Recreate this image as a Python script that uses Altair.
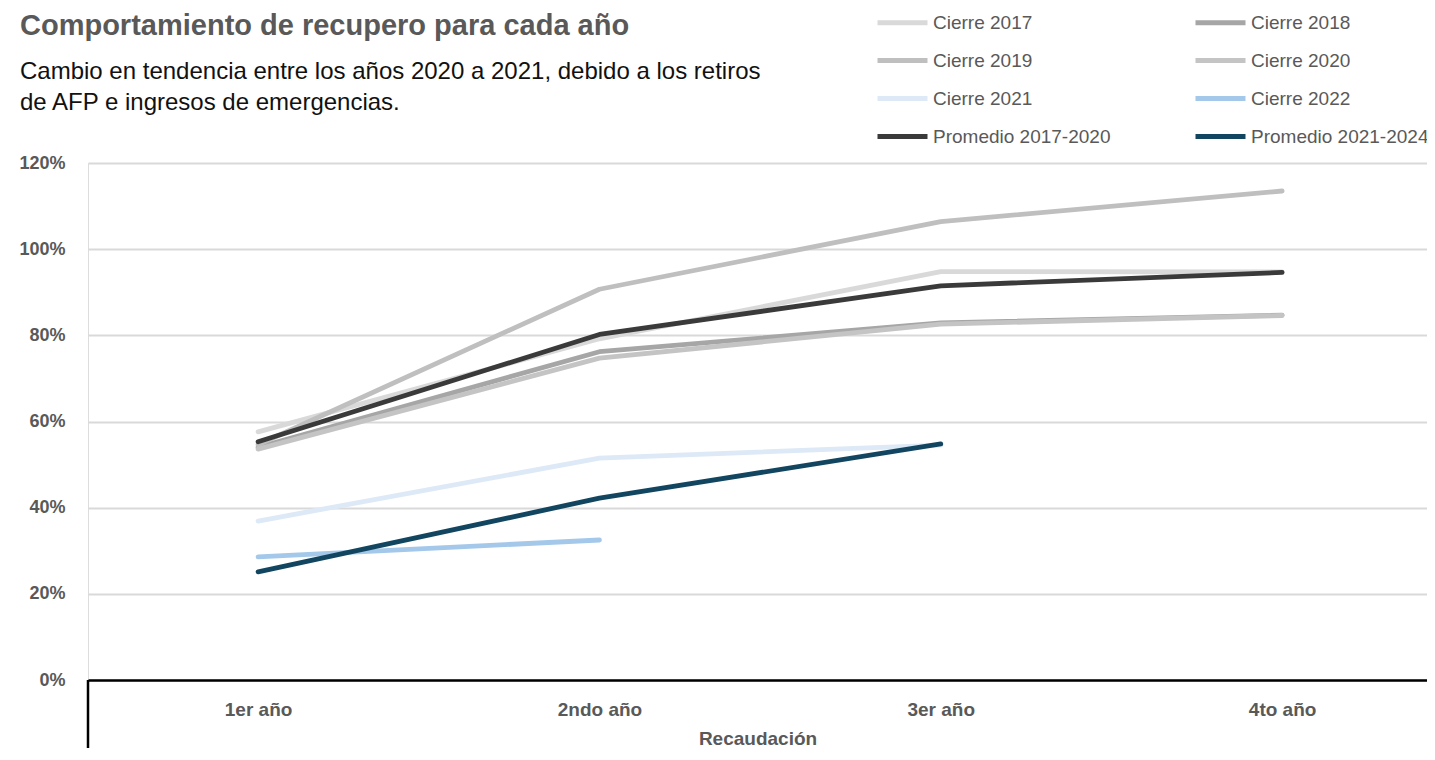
import altair as alt
import pandas as pd

# ---- data ----
categorias = ["1er año", "2ndo año", "3er año", "4to año"]
series = ["Cierre 2017", "Cierre 2018", "Cierre 2019", "Cierre 2020",
          "Cierre 2021", "Cierre 2022", "Promedio 2017-2020", "Promedio 2021-2024"]
cierre_2017 = [0.576, 0.792, 0.948, 0.947]
cierre_2018 = [0.540, 0.762, 0.829, 0.847]
cierre_2019 = [0.546, 0.907, 1.064, 1.135]
cierre_2020 = [0.536, 0.747, 0.826, 0.846]
cierre_2021 = [0.369, 0.515, 0.545, None]
cierre_2022 = [0.286, 0.325, None, None]
promedio_2017_2020 = [0.553, 0.802, 0.915, 0.946]
promedio_2021_2024 = [0.251, 0.422, 0.548, None]

colores = ["#d9d9d9", "#a6a6a6", "#bfbfbf", "#c4c4c4",
           "#dde9f6", "#a4c8ea", "#3a3a3a", "#124660"]
grosores = [4.8, 4.8, 4.8, 4.8, 4.8, 4.8, 6.5, 6.5]

titulo = "Comportamiento de recupero para cada año"
subtitulo_1 = "Cambio en tendencia entre los años 2020 a 2021, debido a los retiros"
subtitulo_2 = "de AFP e ingresos de emergencias."

valores = [cierre_2017, cierre_2018, cierre_2019, cierre_2020,
           cierre_2021, cierre_2022, promedio_2017_2020, promedio_2021_2024]
rows = []
for s, vals in zip(series, valores):
    for c, v in zip(categorias, vals):
        if v is not None:
            rows.append({"serie": s, "anio": c, "valor": v})
df = pd.DataFrame(rows)

FONT = "Liberation Sans"
GRAY = "#595959"
W, H = 1339, 517

x_enc = alt.X("anio:N", sort=categorias,
              scale=alt.Scale(type="point", domain=categorias, padding=0.4614, align=0.540),
              axis=alt.Axis(title="Recaudación", labelAngle=0, ticks=False, tickSize=0,
                            labelPadding=20, labelFontSize=19, labelFontWeight="bold",
                            labelColor=GRAY, labelFont=FONT, titleFont=FONT,
                            titleFontSize=19, titleFontWeight="bold", titleColor=GRAY,
                            titlePadding=10, domainColor="#000000", domainWidth=2.5,
                            grid=False, zindex=1))
y_enc = alt.Y("valor:Q",
              scale=alt.Scale(domain=[0, 1.2]),
              axis=alt.Axis(title=None, values=[0, 0.2, 0.4, 0.6, 0.8, 1.0, 1.2],
                            format=".0%", domain=False, ticks=False, tickSize=0,
                            labelPadding=23, labelFontSize=18, labelFontWeight="bold",
                            labelColor=GRAY, labelFont=FONT,
                            gridColor="#d9d9d9", gridWidth=2))
leg = dict(title=None, orient="none", legendX=787, legendY=-168, direction="horizontal",
           columns=2, symbolType="stroke", symbolSize=2500, labelLimit=400,
           labelFontSize=19, labelColor=GRAY, labelFont=FONT,
           labelOffset=3, columnPadding=74, rowPadding=-9)
color_enc = alt.Color("serie:N", scale=alt.Scale(domain=series, range=colores),
                      legend=alt.Legend(**leg))
sw_enc = alt.StrokeWidth("serie:N", scale=alt.Scale(domain=series, range=grosores),
                         legend=alt.Legend(**leg))

base = alt.Chart(df).mark_line(strokeCap="round", strokeJoin="round").encode(
    x=x_enc, y=y_enc, color=color_enc, strokeWidth=sw_enc)

layers = [base.transform_filter(alt.datum.serie == s) for s in series]

t_title = alt.Chart(pd.DataFrame({"t": [titulo]})).mark_text(
    align="left", baseline="alphabetic", font=FONT, fontSize=29, fontWeight="bold", color=GRAY
).encode(text="t:N", x=alt.value(-68), y=alt.value(-128))
t_sub1 = alt.Chart(pd.DataFrame({"t": [subtitulo_1]})).mark_text(
    align="left", baseline="alphabetic", font=FONT, fontSize=24, color="#111111"
).encode(text="t:N", x=alt.value(-68), y=alt.value(-84))
t_sub2 = alt.Chart(pd.DataFrame({"t": [subtitulo_2]})).mark_text(
    align="left", baseline="alphabetic", font=FONT, fontSize=24, color="#111111"
).encode(text="t:N", x=alt.value(-68), y=alt.value(-53))

borde = alt.Chart(pd.DataFrame({"a": [0]})).mark_rule(color="#000000", strokeWidth=2.5).encode(
    x=alt.value(0), y=alt.value(H), y2=alt.value(H + 80))

chart = alt.layer(*layers, t_title, t_sub1, t_sub2, borde).properties(
    width=W, height=H,
    autosize=alt.AutoSizeParams(type="none"),
    padding={"left": 80, "top": 155, "right": 0, "bottom": 68},
).configure_view(stroke=None).configure(background="white")

chart.save("out.html", embed_options={"renderer": "svg", "actions": False})
